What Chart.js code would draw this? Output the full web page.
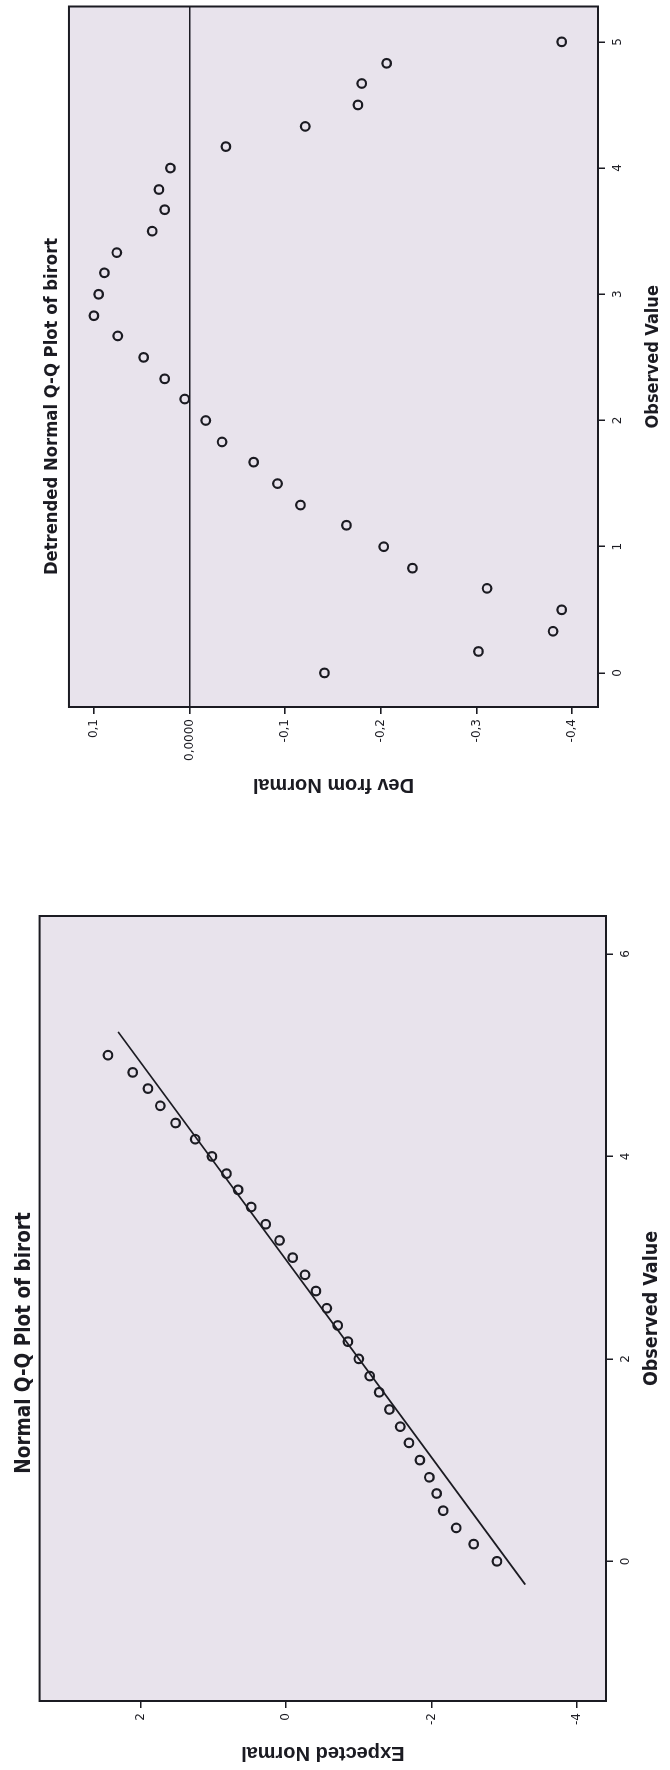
<!DOCTYPE html>
<html lang="en">
<head>
<meta charset="UTF-8">
<title>Normal Q-Q Plots of birort</title>
<script src="https://cdn.jsdelivr.net/npm/chart.js"></script>
<style>
    body {
        margin: 0;
        background: #fff;
        width: 670px;
        height: 1770px;
        overflow: hidden;
        position: relative;
    }
    /* the scanned page has both charts turned a quarter turn counter-clockwise */
    canvas {
        position: absolute;
        left: 0;
        top: 0;
        transform-origin: 0 0;
    }
    #detrended { transform: translate(0px, 810px) rotate(-90deg); }
    #qq { transform: translate(0px, 1770px) rotate(-90deg); }
</style>
</head>
<body>

<canvas id="detrended" width="810" height="670"></canvas>
<canvas id="qq" width="920" height="670"></canvas>

<script>
    // observed values of birort (same for both plots)
    const observed = [0, 0.17, 0.33, 0.5, 0.67, 0.83, 1, 1.17, 1.33, 1.5, 1.67, 1.83, 2, 2.17, 2.33,
        2.5, 2.67, 2.83, 3, 3.17, 3.33, 3.5, 3.67, 3.83, 4, 4.17, 4.33, 4.5, 4.67, 4.83, 5];

    // detrended plot
    const devFromNormal = [-0.141, -0.302, -0.380, -0.389, -0.311, -0.233, -0.203, -0.164, -0.116, -0.092,
        -0.067, -0.034, -0.017, 0.005, 0.026, 0.048, 0.075, 0.100, 0.095, 0.089,
        0.076, 0.039, 0.026, 0.032, 0.020, -0.038, -0.121, -0.176, -0.180, -0.206, -0.389];

    // normal q-q plot
    const expectedNormal = [-2.90, -2.58, -2.34, -2.16, -2.07, -1.97, -1.84, -1.69, -1.57, -1.42,
        -1.28, -1.15, -1.00, -0.85, -0.71, -0.56, -0.41, -0.26, -0.09, 0.09,
        0.28, 0.48, 0.66, 0.82, 1.02, 1.25, 1.52, 1.73, 1.90, 2.11, 2.45];
    const fitLineObserved = [-0.23, 5.23];
    const fitLineExpected = [-3.29, 2.31];

    // ticks
    const detObsTicks = [0, 1, 2, 3, 4, 5];
    const devTicks = [0.1, 0, -0.1, -0.2, -0.3, -0.4];
    const devTickLabels = ['0,1', '0,0000', '-0,1', '-0,2', '-0,3', '-0,4'];
    const qqObsTicks = [0, 2, 4, 6];
    const expTicks = [2, 0, -2, -4];

    const narrowBold = '"Liberation Sans Narrow", "DejaVu Sans Condensed", "Liberation Sans", sans-serif';
    const tickFont = { family: '"DejaVu Sans", sans-serif', size: 12 };
    const ink = '#1b1b22';

    const framePlugin = {
        id: 'frame',
        beforeDraw(chart) {
            const a = chart.chartArea, ctx = chart.ctx;
            ctx.save();
            ctx.fillStyle = '#e8e3ec';
            ctx.fillRect(a.left, a.top, a.right - a.left, a.bottom - a.top);
            ctx.restore();
        },
        afterDraw(chart) {
            const a = chart.chartArea, ctx = chart.ctx;
            ctx.save();
            ctx.strokeStyle = ink;
            ctx.lineWidth = 2;
            ctx.strokeRect(a.left, a.top, a.right - a.left, a.bottom - a.top);
            ctx.restore();
        }
    };

    function toPoints(xs, ys) {
        return xs.map((x, i) => ({ x: x, y: ys[i] }));
    }

    const circles = {
        pointRadius: 4.3,
        pointBorderWidth: 2.2,
        pointBorderColor: ink,
        pointBackgroundColor: 'rgba(0,0,0,0)',
        showLine: false
    };

    function axisX(min, max, ticks, height, titleSize) {
        return {
            type: 'linear',
            position: 'bottom',
            min: min,
            max: max,
            afterFit: s => { s.height = height; },
            afterBuildTicks: s => { s.ticks = ticks.map(v => ({ value: v })); },
            border: { display: false },
            grid: { drawOnChartArea: false, tickLength: 7, tickColor: ink, lineWidth: 1.5 },
            ticks: { font: tickFont, color: ink, padding: 6, maxRotation: 0 },
            title: {
                display: true,
                text: 'Observed Value',
                color: ink,
                font: { family: narrowBold, size: titleSize, weight: 'bold' },
                padding: { top: 0, bottom: 6 }
            }
        };
    }

    // ---- Detrended Normal Q-Q Plot ----
    new Chart(document.getElementById('detrended'), {
        type: 'scatter',
        data: {
            datasets: [Object.assign({ data: toPoints(observed, devFromNormal) }, circles)]
        },
        options: {
            responsive: false,
            animation: false,
            events: [],
            layout: { padding: { right: 3 } },
            plugins: {
                legend: { display: false },
                tooltip: { enabled: false },
                title: {
                    display: true,
                    text: 'Detrended Normal Q-Q Plot of birort',
                    color: ink,
                    font: { family: narrowBold, size: 18.3, weight: 'bold' },
                    padding: { top: 41, bottom: 6 }
                }
            },
            scales: {
                x: axisX(-0.27, 5.28, detObsTicks, 72, 18),
                y: {
                    type: 'linear',
                    min: -0.427,
                    max: 0.126,
                    afterFit: s => { s.width = 103; },
                    afterBuildTicks: s => { s.ticks = devTicks.map(v => ({ value: v })); },
                    border: { display: false },
                    grid: {
                        color: c => (c.tick && c.tick.value === 0) ? ink : 'rgba(0,0,0,0)',
                        lineWidth: 1.6,
                        tickLength: 7,
                        tickColor: ink
                    },
                    ticks: {
                        font: tickFont,
                        color: ink,
                        padding: 5,
                        callback: v => devTickLabels[devTicks.indexOf(v)]
                    },
                    title: {
                        display: true,
                        text: 'Dev from Normal',
                        color: ink,
                        font: { family: '"Liberation Sans", Arial, sans-serif', size: 20, weight: 'bold' },
                        padding: { top: 13, bottom: 0 }
                    }
                }
            }
        },
        plugins: [framePlugin]
    });

    // ---- Normal Q-Q Plot ----
    new Chart(document.getElementById('qq'), {
        type: 'scatter',
        data: {
            datasets: [
                Object.assign({ data: toPoints(observed, expectedNormal) }, circles),
                {
                    data: toPoints(fitLineObserved, fitLineExpected),
                    showLine: true,
                    borderColor: ink,
                    borderWidth: 1.8,
                    pointRadius: 0,
                    fill: false
                }
            ]
        },
        options: {
            responsive: false,
            animation: false,
            events: [],
            layout: { padding: { right: 66 } },
            plugins: {
                legend: { display: false },
                tooltip: { enabled: false },
                title: {
                    display: true,
                    text: 'Normal Q-Q Plot of birort',
                    color: ink,
                    font: { family: narrowBold, size: 20.5, weight: 'bold' },
                    padding: { top: 12, bottom: 3 }
                }
            },
            scales: {
                x: axisX(-1.38, 6.375, qqObsTicks, 64, 19.5),
                y: {
                    type: 'linear',
                    min: -4.4,
                    max: 3.39,
                    afterFit: s => { s.width = 69; },
                    afterBuildTicks: s => { s.ticks = expTicks.map(v => ({ value: v })); },
                    border: { display: false },
                    grid: { drawOnChartArea: false, tickLength: 7, tickColor: ink, lineWidth: 1.5 },
                    ticks: { font: tickFont, color: ink, padding: 5 },
                    title: {
                        display: true,
                        text: 'Expected Normal',
                        color: ink,
                        font: { family: '"Liberation Sans", Arial, sans-serif', size: 20, weight: 'bold' },
                        padding: { top: 5, bottom: 0 }
                    }
                }
            }
        },
        plugins: [framePlugin]
    });
</script>

</body>
</html>
